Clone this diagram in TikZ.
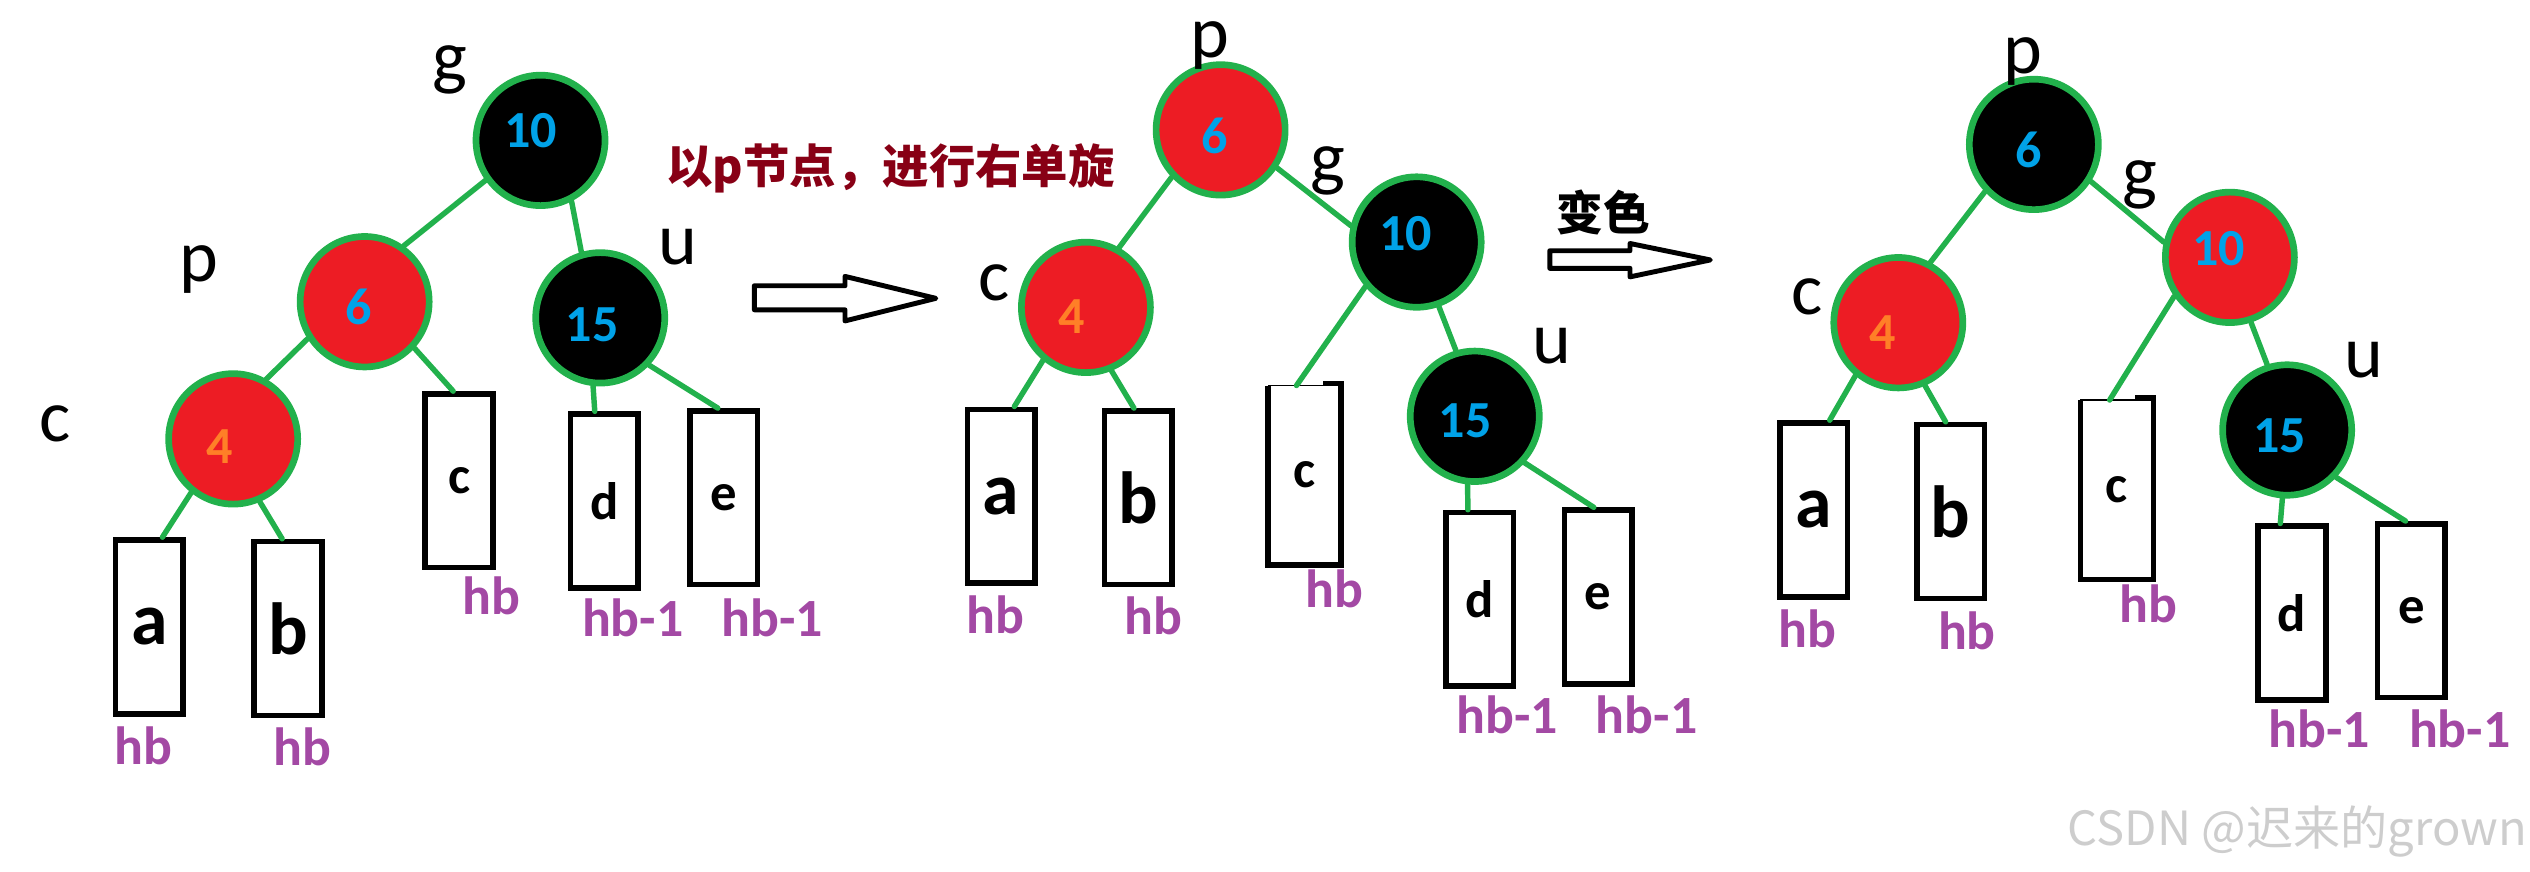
\documentclass[tikz,border=0pt]{standalone}
\usepackage{fontspec}
\setmainfont{Carlito}
\newfontfamily\cjk{Noto Sans CJK SC}
\usetikzlibrary{shapes.geometric,calc}
\definecolor{pgreen}{HTML}{22B14C}
\definecolor{pred}{HTML}{ED1C24}
\definecolor{pblue}{HTML}{00A2E8}
\definecolor{porange}{HTML}{FF7F27}
\definecolor{ppurple}{HTML}{A349A4}
\definecolor{pdarkred}{HTML}{880015}
\definecolor{wmgray}{RGB}{205,205,205}
\tikzset{
  rb/.style={ellipse, draw=pgreen, line width=1.9pt, minimum width=36.7pt, minimum height=37.1pt, inner sep=0pt},
  rednode/.style={rb, fill=pred},
  blacknode/.style={rb, fill=black},
  numtxt/.style={font=\bfseries\fontsize{14.8}{14.8}\selectfont, inner sep=0pt, text=pblue},
  numor/.style={numtxt, text=porange},
  lbl/.style={font=\fontsize{21}{21}\selectfont, inner sep=0pt},
  leafbox/.style={rectangle, draw=black, line width=1.6pt, minimum width=19.2pt, minimum height=49.4pt, inner sep=0pt, font=\bfseries\fontsize{15}{15}\selectfont},
  bigleaf/.style={leafbox, font=\bfseries\fontsize{21}{21}\selectfont},
  hbtxt/.style={font=\bfseries\fontsize{15.3}{15.3}\selectfont, text=ppurple, inner sep=0pt},
  tedge/.style={draw=pgreen, line width=1.55pt, line cap=round},
  hollow/.style={draw=black, fill=white, line width=1.4pt, line join=round},
}
\begin{document}
\begin{tikzpicture}[x=0.016135cm, y=-0.016135cm]
\useasboundingbox (0,0) rectangle (1568,540.4);

% ---------------- Tree 1 ----------------
\node[blacknode] (g1) at (335,87) {};
\node[rednode] (p1) at (226,187) {};
\node[blacknode] (u1) at (372,197) {};
\node[rednode] (c1) at (144.5,272) {};
\node[numtxt] (n10a) at (329,81) {10};
\node[numtxt] (n6a) at (222,190) {6};
\node[numtxt] (n15a) at (367,201) {15};
\node[numor] (n4a) at (136,277) {4};
\node[lbl] (lg1) at (278.8,43.4) {g};
\node[lbl] (lp1) at (123.5,167.3) {p};
\node[lbl] (lu1) at (420,153.4) {u};
\node[lbl] (lc1) at (34.1,262.8) {c};
\node[bigleaf] (a1) at (92.5,388.5) {a};
\node[bigleaf] (b1) at (178.5,389.5) {b};
\node[leafbox] (cc1) at (284.5,298) {c};
\node[leafbox] (d1) at (374.5,310.5) {d};
\node[leafbox] (e1) at (448.5,308.5) {e};
\node[hbtxt] (ha1) at (89,462.3) {hb};
\node[hbtxt] (hb1) at (187.6,462.8) {hb};
\node[hbtxt] (hc1) at (304.5,369.3) {hb};
\node[hbtxt] (hd1) at (392.2,382.7) {hb-1};
\node[hbtxt] (he1) at (478.7,382.7) {hb-1};
\draw[tedge] (g1.216.3) -- (p1.55.6);
\draw[tedge] (g1.297) -- (u1.106.3);
\draw[tedge] (p1.213.3) -- (c1.61.7);
\draw[tedge] (p1.317) -- ($(cc1.north west)!0.42!(cc1.north east)$);
\draw[tedge] (u1.264.4) -- ($(d1.north west)!0.37!(d1.north east)$);
\draw[tedge] (u1.316) -- ($(e1.north west)!0.42!(e1.north east)$);
\draw[tedge] (c1.232.9) -- ($(a1.north west)!0.68!(a1.north east)$);
\draw[tedge] (c1.293.6) -- ($(b1.north west)!0.42!(b1.north east)$);

% arrow 1 and caption
\coordinate (ar1) at (467.5,177.1);
\draw[hollow] (ar1) -- (523.7,177.1) -- (523.7,171.3) -- (580,184.9) -- (523.7,198.9) -- (523.7,192) -- (467.5,192) -- cycle;
\node[font=\cjk\bfseries\fontsize{13.2}{13.2}\selectfont, text=pdarkred, inner sep=0pt] (t1) at (552,104.5) {以p节点，进行右单旋};

% ---------------- Tree 2 ----------------
\node[rednode] (p2) at (756.5,80.5) {};
\node[blacknode] (g2) at (878,150) {};
\node[rednode] (c2) at (673,190.5) {};
\node[blacknode] (u2) at (914,258) {};
\node[numtxt] (n6b) at (753,84) {6};
\node[numtxt] (n10b) at (871,145) {10};
\node[numor] (n4b) at (664,196) {4};
\node[numtxt] (n15b) at (908,261) {15};
\node[lbl] (lp2) at (749.6,28.4) {p};
\node[lbl] (lg2) at (822.8,105.9) {g};
\node[lbl] (lc2) at (615.9,175.1) {c};
\node[lbl] (lu2) at (962.1,214.4) {u};
\node[bigleaf] (a2) at (620.5,307.5) {a};
\node[bigleaf] (b2) at (705.5,308.5) {b};
\node[leafbox, draw=none] (cc2) at (808.5,294.5) {c};
\draw[line width=1.6pt] (cc2.north west) -- (cc2.south west) -- (cc2.south east) -- (cc2.north east);
\draw[line width=0.4pt] (cc2.north west) -- (cc2.north east);
\fill ($(cc2.north east)+(-11.5,-3)$) rectangle ($(cc2.north east)+(1.75,0.3)$);
\node[leafbox] (d2) at (917,371.5) {d};
\node[leafbox] (e2) at (990.5,370) {e};
\node[hbtxt] (ha2) at (617,381) {hb};
\node[hbtxt] (hb2) at (715,381.5) {hb};
\node[hbtxt] (hc2) at (827,365) {hb};
\node[hbtxt] (hd2) at (934,443) {hb-1};
\node[hbtxt] (he2) at (1020.5,443) {hb-1};
\draw[tedge] (p2.224) -- (c2.61.6);
\draw[tedge] (p2.326) -- (g2.166);
\draw[tedge] (g2.221.4) -- ($(cc2.north west)!0.39!(cc2.north east)$);
\draw[tedge] (g2.289.4) -- (u2.106);
\draw[tedge] (c2.231.1) -- ($(a2.north west)!0.68!(a2.north east)$);
\draw[tedge] (c2.292.8) -- ($(b2.north west)!0.44!(b2.north east)$);
\draw[tedge] (u2.264.4) -- ($(d2.north west)!0.34!(d2.north east)$);
\draw[tedge] (u2.317) -- ($(e2.north west)!0.44!(e2.north east)$);

% arrow 2 and caption
\coordinate (ar2) at (960.5,155.4);
\draw[hollow] (ar2) -- (1010.2,155.4) -- (1010.2,150.9) -- (1060,161.1) -- (1010.2,171.6) -- (1010.2,166.3) -- (960.5,166.3) -- cycle;
\node[font=\cjk\bfseries\fontsize{13.3}{13.3}\selectfont, text=black, inner sep=0pt] (t2) at (993.5,131.5) {变色};

% ---------------- Tree 3 ----------------
\node[blacknode] (p3) at (1260.5,89.5) {};
\node[rednode] (g3) at (1382,159.5) {};
\node[rednode] (c3) at (1176.5,200) {};
\node[blacknode] (u3) at (1417.5,266.5) {};
\node[numtxt] (n6c) at (1257,93) {6};
\node[numtxt] (n10c) at (1375,154) {10};
\node[numor] (n4c) at (1167,206) {4};
\node[numtxt] (n15c) at (1413,270) {15};
\node[lbl] (lp3) at (1253.5,38) {p};
\node[lbl] (lg3) at (1326,114.5) {g};
\node[lbl] (lc3) at (1120,184) {c};
\node[lbl] (lu3) at (1465,223) {u};
\node[bigleaf] (a3) at (1124,316) {a};
\node[bigleaf] (b3) at (1209,317) {b};
\node[leafbox, draw=none] (cc3) at (1312,303.5) {c};
\draw[line width=1.6pt] (cc3.north west) -- (cc3.south west) -- (cc3.south east) -- (cc3.north east);
\draw[line width=0.4pt] (cc3.north west) -- (cc3.north east);
\fill ($(cc3.north east)+(-11.5,-3)$) rectangle ($(cc3.north east)+(1.75,0.3)$);
\node[leafbox] (d3) at (1420.5,380) {d};
\node[leafbox] (e3) at (1494.5,378.5) {e};
\node[hbtxt] (ha3) at (1120,390) {hb};
\node[hbtxt] (hb3) at (1219,391) {hb};
\node[hbtxt] (hc3) at (1331.5,374.5) {hb};
\node[hbtxt] (hd3) at (1437.5,452) {hb-1};
\node[hbtxt] (he3) at (1524.5,452) {hb-1};
\draw[tedge] (p3.224) -- (c3.62.2);
\draw[tedge] (p3.327.6) -- (g3.167);
\draw[tedge] (g3.215) -- ($(cc3.north west)!0.40!(cc3.north east)$);
\draw[tedge] (g3.288.7) -- (u3.107);
\draw[tedge] (c3.231.2) -- ($(a3.north west)!0.72!(a3.north east)$);
\draw[tedge] (c3.293.6) -- ($(b3.north west)!0.43!(b3.north east)$);
\draw[tedge] (u3.266.6) -- ($(d3.north west)!0.34!(d3.north east)$);
\draw[tedge] (u3.316.8) -- ($(e3.north west)!0.42!(e3.north east)$);

% watermark
\node[font=\cjk\fontsize{13.4}{13.4}\selectfont, text=wmgray, inner sep=0pt, anchor=base east] (wm) at (1566.5,524) {CSDN @迟来的grown};
\end{tikzpicture}
\end{document}
